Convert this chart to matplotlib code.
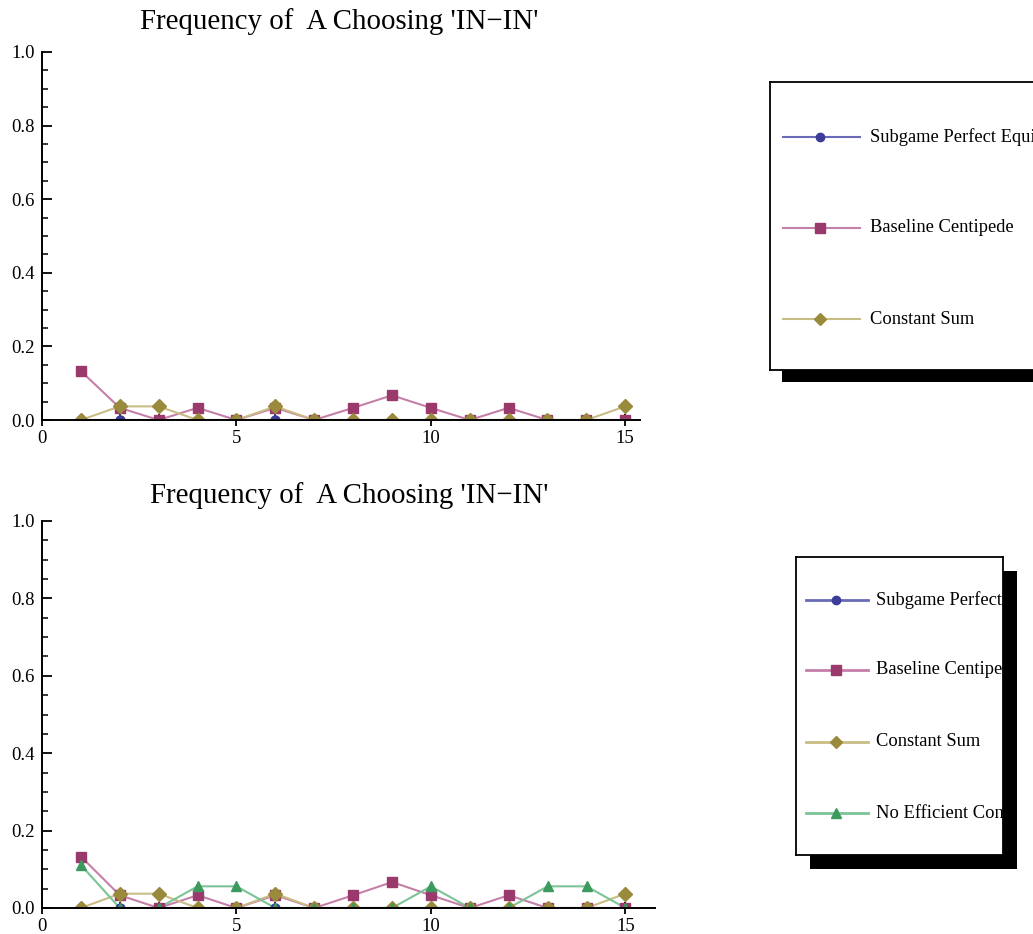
import numpy as np
import matplotlib
matplotlib.use('Agg')
import matplotlib.pyplot as plt
from matplotlib.patches import Rectangle
from matplotlib.ticker import MultipleLocator

plt.rcParams['font.family'] = ['Liberation Serif', 'DejaVu Serif']

# Раунды игры
rounds = np.arange(1, 16)

# Частоты выбора 'IN-IN' по сериям
spe = [0, 0, 0, 0, 0, 0, 0, 0, 0, 0, 0, 0, 0, 0, 0]
baseline = [0.133, 0.033, 0, 0.033, 0, 0.033, 0, 0.033, 0.067, 0.033, 0, 0.033, 0, 0, 0]
const_sum = [0, 0.037, 0.037, 0, 0, 0.037, 0, 0, 0, 0, 0, 0, 0, 0, 0.037]
no_eff = [0.111, 0, 0, 0.056, 0.056, 0, 0, 0, 0, 0.056, 0, 0, 0.056, 0.056, 0]

labels = ['Subgame Perfect Equilibrium', 'Baseline Centipede', 'Constant Sum',
          'No Efficient Condition']
title = "Frequency of  A Choosing 'IN\u2212IN'"

# Цвета: (маркер, линия)
colors = [('#3c3c99', '#6a6ab8'), ('#9a3a6c', '#c480a8'),
          ('#998a3c', '#c9bc84'), ('#3c9a5e', '#7cc496')]
markers = ['o', 's', 'D', '^']
msizes = [6.5, 7, 7, 7.5]

W, H = 1033, 934
fig = plt.figure(figsize=(W / 100, H / 100), dpi=100)


def px_box(left, top, right, bottom):
    return [left / W, 1 - bottom / H, (right - left) / W, (bottom - top) / H]


def style_axes(ax, xmax):
    ax.set_xlim(0, xmax)
    ax.set_ylim(0, 1)
    for s in ['top', 'right']:
        ax.spines[s].set_visible(False)
    for s in ['left', 'bottom']:
        ax.spines[s].set_linewidth(1.4)
    ax.xaxis.set_major_locator(MultipleLocator(5))
    ax.xaxis.set_minor_locator(MultipleLocator(1))
    ax.yaxis.set_major_locator(MultipleLocator(0.2))
    ax.yaxis.set_minor_locator(MultipleLocator(0.05))
    ax.yaxis.set_major_formatter(plt.FormatStrFormatter('%.1f'))
    ax.tick_params(which='major', direction='in', length=7, width=1.3, labelsize=13.5, pad=5)
    ax.tick_params(which='minor', direction='in', length=4.5, width=1.1)
    ax.tick_params(axis='x', which='major', direction='inout', length=9, pad=3)


def draw_series(ax, series):
    for i, ys in enumerate(series):
        mc, lc = colors[i]
        ax.plot(rounds, ys, color=lc, lw=1.5, zorder=2)
        ax.plot(rounds, ys, ls='none', marker=markers[i], ms=msizes[i],
                color=mc, mec=mc, zorder=2.1)


def draw_legend(box, shadow, rows, n, line_x, text_x, width):
    left, top, right, bottom = box
    sh = Rectangle((shadow[0] / W, 1 - shadow[1] / H), (right - left) / W, -(bottom - top) / H,
                   transform=fig.transFigure, facecolor='black', edgecolor='none', zorder=-1)
    fig.add_artist(sh)
    lax = fig.add_axes(px_box(left, top, right, bottom))
    lax.set_xlim(0, right - left)
    lax.set_ylim(bottom - top, 0)
    lax.set_xticks([])
    lax.set_yticks([])
    for s in lax.spines.values():
        s.set_linewidth(1.3)
    for i in range(n):
        mc, lc = colors[i]
        y = rows[i]
        lax.plot(line_x[:2], [y, y], color=lc, lw=width)
        lax.plot([line_x[2]], [y], marker=markers[i], ms=msizes[i] - 0.5, color=mc, ls='none')
        lax.text(text_x, y, labels[i], fontsize=13.3, va='center', ha='left', clip_on=True)


# Верхний график: три серии
ax1 = fig.add_axes(px_box(42, 52, 640, 420))
draw_series(ax1, [spe, baseline, const_sum])
style_axes(ax1, 15.38)
fig.text(339 / W, 1 - 29 / H, title, fontsize=20.8, ha='center', va='baseline')

# Нижний график: четыре серии
ax2 = fig.add_axes(px_box(42, 521, 655, 908))
draw_series(ax2, [spe, baseline, const_sum, no_eff])
style_axes(ax2, 15.76)
fig.text(349 / W, 1 - 503 / H, title, fontsize=20.8, ha='center', va='baseline')

# Легенды с тенью
draw_legend((770, 82, 1045, 370), (782, 94), [55, 146, 237], 3, (13, 90, 50), 100, 1.5)
draw_legend((796, 557, 1003, 855), (810, 571), [43, 113, 185, 256], 4, (10, 72, 40), 80, 2.0)

plt.savefig('out.png', dpi=100)
